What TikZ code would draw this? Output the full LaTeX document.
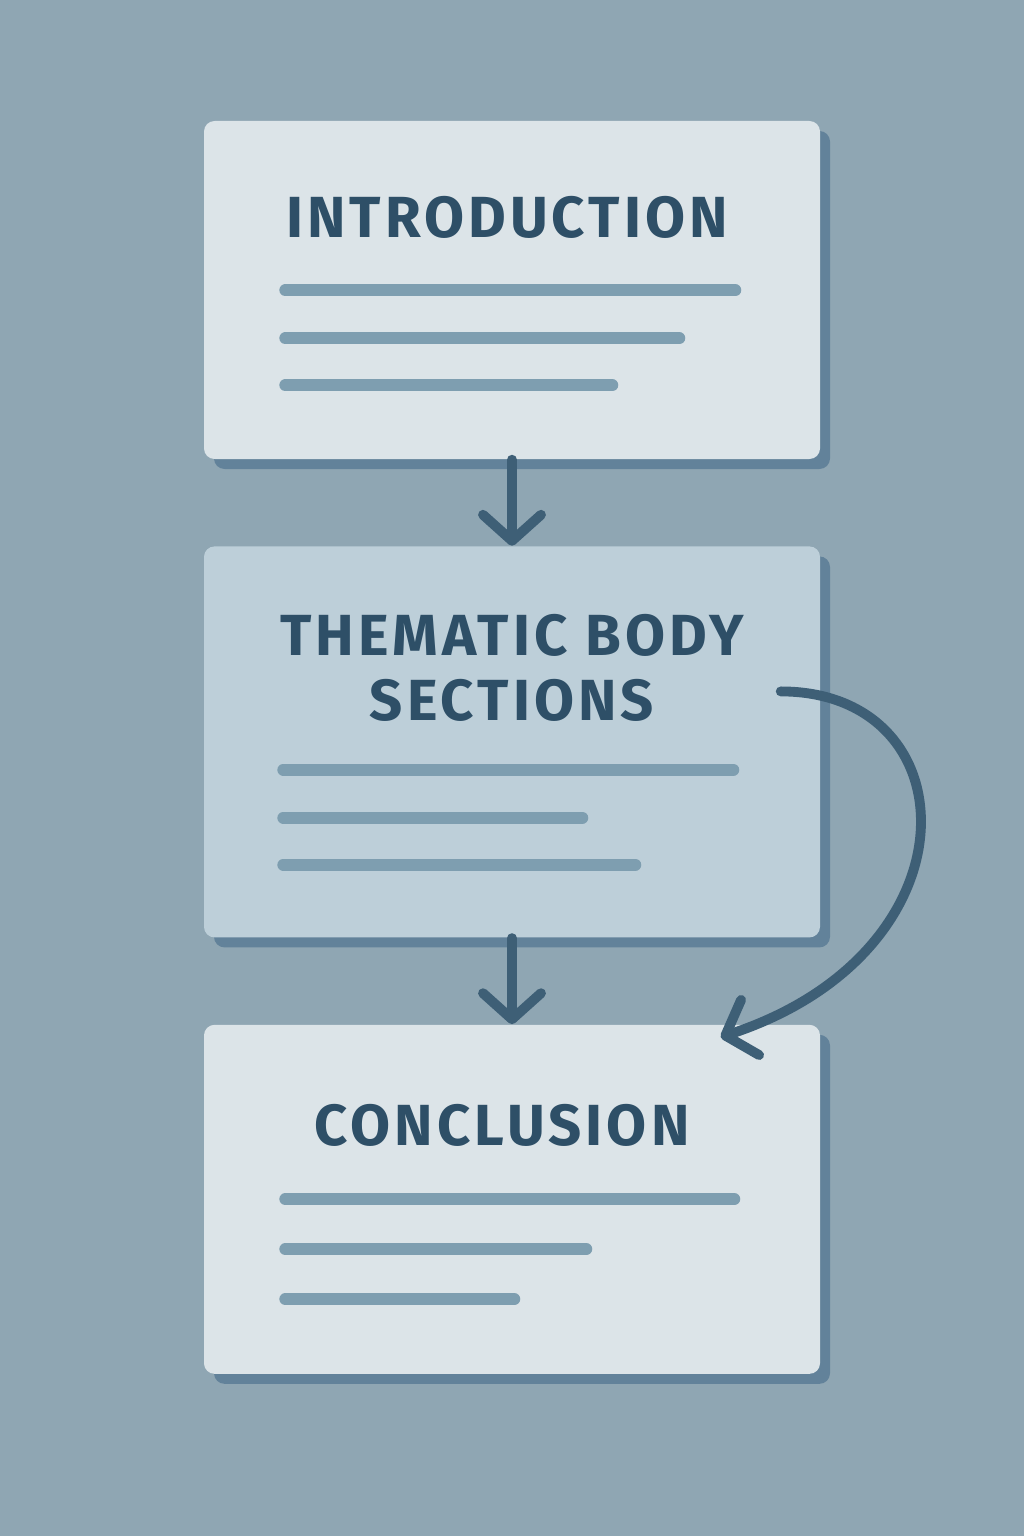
\documentclass[tikz,border=0pt]{standalone}
\usepackage{fontspec}
\setmainfont{Fira Sans}
\newfontfamily\ttlfont[LetterSpace=7]{Fira Sans}
\usepackage{xcolor}
\usepackage{tikz}
\usetikzlibrary{positioning,arrows.meta,shadows}
\definecolor{bgc}{HTML}{8FA6B3}
\definecolor{cardc}{HTML}{DCE4E8}
\definecolor{cardmid}{HTML}{BDCFD9}
\definecolor{shadc}{HTML}{62829A}
\definecolor{ttlc}{HTML}{2E4F67}
\definecolor{barc}{HTML}{7E9EB0}
\definecolor{arrc}{HTML}{3E5F76}

\begin{document}
\begin{tikzpicture}[
  card/.style={rectangle,rounded corners=3pt,fill=cardc,minimum width=6.16cm,inner sep=0pt,
    drop shadow={shadow xshift=0.1cm,shadow yshift=-0.1cm,fill=shadc,opacity=1}},
  ttl/.style={font=\ttlfont\bfseries\fontsize{16.5}{18.5}\selectfont,text=ttlc,align=center},
  bar/.style={line width=3.4pt,line cap=round,color=barc},
  arr/.style={-{Straight Barb[length=2.6mm,width=5.8mm,round]},line width=2.8pt,color=arrc,line cap=round},
  node distance=0.86cm]
  \fill[bgc] (0,0) rectangle (10.24,-15.36);
  \useasboundingbox (0,0) rectangle (10.24,-15.36);
  % cards
  \node[card,minimum height=3.38cm](intro) at (5.12,-2.90){};
  \node[card,fill=cardmid,minimum height=3.91cm,below=of intro](body){};
  \node[card,minimum height=3.49cm,below=of body](concl){};
  % titles
  \node[ttl](introttl) at ([xshift=-0.05cm,yshift=-0.97cm]intro.north){INTRODUCTION};
  \node[ttl](bodyttl) at ([yshift=-1.22cm]body.north){THEMATIC BODY\\SECTIONS};
  \node[ttl](conclttl) at ([xshift=-0.1cm,yshift=-1.01cm]concl.north){CONCLUSION};
  % text bars
  \foreach \y/\l in {1.70/4.50,2.18/3.94,2.65/3.27}
    \draw[bar] ([xshift=0.82cm,yshift=-\y cm]intro.north west) -- ++(\l,0);
  \foreach \y/\l in {2.24/4.50,2.72/2.99,3.19/3.52}
    \draw[bar] ([xshift=0.80cm,yshift=-\y cm]body.north west) -- ++(\l,0);
  \foreach \y/\l in {1.75/4.49,2.25/3.01,2.75/2.29}
    \draw[bar] ([xshift=0.82cm,yshift=-\y cm]concl.north west) -- ++(\l,0);
  % flow
  \draw[arr](intro.south)--(body.north);
  \draw[arr](body.south)--(concl.north);
  \draw[arr]([xshift=-0.4cm,yshift=0.505cm]body.east)
    .. controls ([xshift=1.5cm,yshift=0.505cm]body.east) and ([xshift=1.6cm,yshift=-2.1cm]body.east) ..
    ([xshift=-1.0cm,yshift=-0.13cm]concl.north east);
\end{tikzpicture}
\end{document}
